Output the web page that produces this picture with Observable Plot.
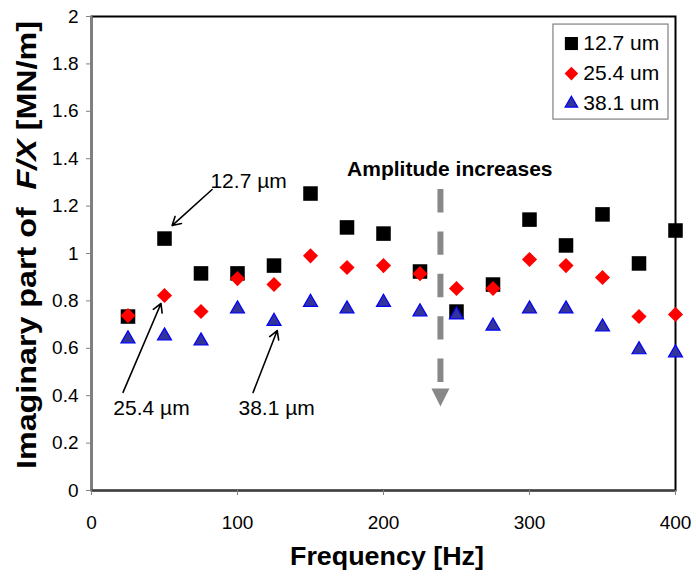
<!DOCTYPE html>
<html><head><meta charset="utf-8">
<script src="https://cdn.jsdelivr.net/npm/d3@7"></script>
<script src="https://cdn.jsdelivr.net/npm/@observablehq/plot@0.6"></script>
<style>body{margin:0;background:#fff;}</style>
</head><body><div id="chart"></div>
<script>
// ---- data ----
const freq = [25,50,75,100,125,150,175,200,225,250,275,300,325,350,375,400];
const vals127 = [0.734,1.063,0.916,0.916,0.949,1.253,1.110,1.084,0.924,0.755,0.869,1.143,1.034,1.165,0.958,1.097];
const vals254 = [0.738,0.823,0.755,0.894,0.869,0.990,0.941,0.949,0.915,0.852,0.852,0.975,0.949,0.899,0.734,0.743];
const vals381 = [0.640,0.652,0.631,0.766,0.714,0.794,0.766,0.794,0.754,0.741,0.694,0.766,0.766,0.690,0.594,0.581];
const seriesNames = ["12.7 um","25.4 um","38.1 um"];
const seriesFill = ["#000000","#ff0000","#333399"];
const seriesStroke = ["none","none","#0000ff"];
const seriesSymbol = ["square","diamond2","triangle"];
const seriesR = [8.2,6.8,5.2];

const yTicks = [0,0.2,0.4,0.6,0.8,1,1.2,1.4,1.6,1.8,2];
const yTickLabels = ["0","0.2","0.4","0.6","0.8","1","1.2","1.4","1.6","1.8","2"];
const xTicks = [0,100,200,300,400];
const xTickLabels = ["0","100","200","300","400"];

const xTitle = "Frequency [Hz]";
const yTitleParts = [["Imaginary part of  ","normal"],["F/X","italic"],[" [MN/m]","normal"]];

// annotations (data coordinates)
const annoLabels = ["12.7 µm","25.4 µm","38.1 µm"];
const annoLabelX = [107.6,41.1,126.8];
const annoLabelY = [1.304,0.348,0.348];
const arrowFromX = [82.6,21.6,110.7];
const arrowFromY = [1.27,0.414,0.414];
const arrowToX = [55.2,47.6,127.2];
const arrowToY = [1.118,0.789,0.675];
const ampText = "Amplitude increases";
const ampTextX = 245.4;
const ampX = 239;
const ampTextY = 1.354;
const ampTop = 1.27;
const ampBottom = 0.456;
const ampHead = 0.43;

// legend (data coordinates)
const legX = 328.7, legTextX = 336.9;
const legY = [1.886,1.759,1.633];
const legBox = {x1:316.4, x2:395.2, y1:1.565, y2:1.966};

// ---- build ----
const allVals = [vals127, vals254, vals381];
const rows = seriesNames.map((s,k)=>freq.map((f,i)=>({f, v: allVals[k][i], s})));

const downTri = {draw(ctx){ ctx.moveTo(-9,0); ctx.lineTo(9,0); ctx.lineTo(0,18); ctx.closePath(); }};

const font = "Arial, 'Liberation Sans', sans-serif";
const marks = [
  Plot.frame({stroke:"#000", strokeWidth:2}),
  Plot.ruleX([0], {stroke:"#808080", strokeWidth:2}),
  Plot.ruleY([0], {stroke:"#404040", strokeWidth:2}),
  Plot.axisY({ticks:yTicks, tickFormat:d=>yTickLabels[yTicks.indexOf(d)], tickSize:5, tickPadding:8, fontSize:19, stroke:"#808080", fill:"#000", label:null}),
  Plot.axisX({ticks:xTicks, tickFormat:d=>xTickLabels[xTicks.indexOf(d)], tickSize:5, tickPadding:20, fontSize:19, stroke:"#808080", fill:"#000", label:null}),
  Plot.ruleX([ampX], {y1:ampTop, y2:ampBottom, stroke:"#888", strokeWidth:6, strokeDasharray:"23.4,19"}),
  Plot.dot([ampX], {x:d=>d, y:ampHead, symbol:downTri, fill:"#888", stroke:"none", r:5}),
  Plot.text([ampText], {x:ampTextX, y:ampTextY, text:d=>d, fontWeight:"bold", fontSize:21, fill:"#000"}),
  Plot.arrow(annoLabels.map((_,i)=>i), {x1:i=>arrowFromX[i], y1:i=>arrowFromY[i], x2:i=>arrowToX[i], y2:i=>arrowToY[i], stroke:"#000", strokeWidth:1.6, headLength:9}),
  Plot.text(annoLabels.map((_,i)=>i), {x:i=>annoLabelX[i], y:i=>annoLabelY[i], text:i=>annoLabels[i], fontSize:21, fill:"#000"}),
  ...rows.map((r,k)=>Plot.dot(r, {x:"f", y:"v", symbol:seriesSymbol[k], r:seriesR[k], fill:seriesFill[k], stroke:seriesStroke[k], strokeWidth:1.2})),
  Plot.rect([legBox], {x1:"x1", x2:"x2", y1:"y1", y2:"y2", fill:"#fff", stroke:"#808080", strokeWidth:1.2}),
  ...seriesNames.map((s,k)=>Plot.dot([k], {x:legX, y:legY[k], symbol:seriesSymbol[k], r:seriesR[k]*0.9, fill:seriesFill[k], stroke:seriesStroke[k], strokeWidth:1.2})),
  Plot.text(seriesNames.map((_,k)=>k), {x:legTextX, y:k=>legY[k], text:k=>seriesNames[k], textAnchor:"start", fontSize:21, fill:"#000"})
];

const chart = Plot.plot({
  width:696, height:576,
  marginLeft:91, marginRight:21, marginTop:16, marginBottom:86,
  x:{domain:[0,400]}, y:{domain:[0,2]},
  style:{fontFamily:font, background:"#fff", color:"#000"},
  marks
});

const svg = d3.select(chart);
svg.append("text")
  .attr("x", 387).attr("y", 565)
  .attr("text-anchor","middle")
  .attr("font-family", font).attr("font-weight","bold").attr("font-size",26)
  .attr("textLength",194).attr("lengthAdjust","spacingAndGlyphs")
  .text(xTitle);
const yt = svg.append("text")
  .attr("transform","translate(36,245) rotate(-90)")
  .attr("text-anchor","middle")
  .attr("font-family", font).attr("font-weight","bold").attr("font-size",27)
  .attr("textLength",448).attr("lengthAdjust","spacingAndGlyphs")
  .attr("xml:space","preserve").style("white-space","pre");
yTitleParts.forEach(([t,st])=>yt.append("tspan").attr("font-style",st).text(t));

document.getElementById("chart").appendChild(chart);
</script>
</body></html>
